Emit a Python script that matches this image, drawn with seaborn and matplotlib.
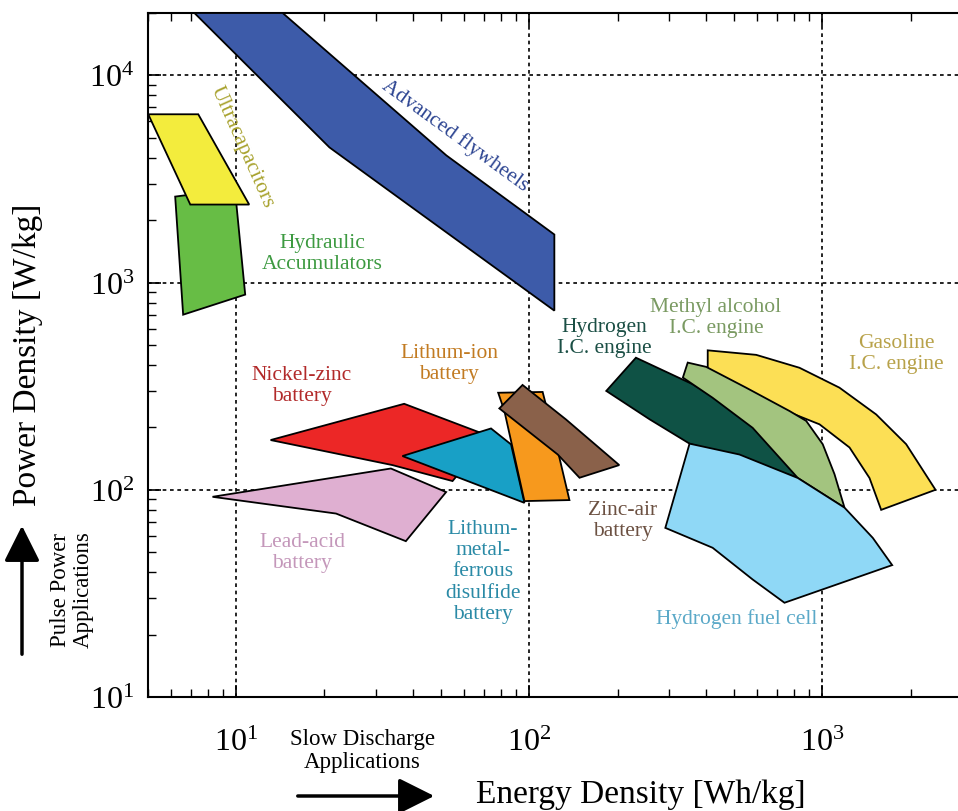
import numpy as np
import pandas as pd
import matplotlib
matplotlib.use("Agg")
import matplotlib.pyplot as plt
import seaborn as sns
from matplotlib.ticker import LogLocator, NullFormatter

# Ragone chart: each technology is a region in (energy density, power density)
# Vertices in Wh/kg (energy) and W/kg (power)

flywheel_e = [7.2, 14.4, 21.9, 52.1, 121.7, 121.7, 41.1, 20.8]
flywheel_p = [20000, 20000, 11940, 4110, 1706, 732, 2230, 4490]

hydraulic_e = [6.19, 7.3, 10.0, 10.73, 6.59]
hydraulic_p = [2600, 2680, 2430, 875, 700]

ultracap_e = [5.01, 7.42, 11.07, 6.97]
ultracap_p = [6490, 6490, 2380, 2380]

nickel_zinc_e = [13.1, 37.4, 73.0, 54.7, 34.1]
nickel_zinc_p = [173.8, 260, 181.6, 110.2, 131.6]

lead_acid_e = [8.30, 33.7, 52.0, 37.9, 21.9]
lead_acid_p = [92.5, 126.7, 97.5, 56.5, 76.8]

li_metal_e = [36.9, 74.0, 86.6, 96.2]
li_metal_p = [145.5, 197.7, 165.6, 86.5]

li_ion_e = [78.3, 111, 125.9, 137, 96.2, 82.2]
li_ion_p = [294, 296.6, 148, 89.2, 88.2, 240]

zinc_air_e = [79.0, 94.8, 133.3, 202.6, 148.3, 125]
zinc_air_p = [247, 320.6, 218.6, 131.6, 114.3, 148]

h2_ice_e = [183, 231, 361, 578, 835, 352, 257]
h2_ice_p = [300, 434, 323, 215, 114, 167, 219]

methyl_e = [334, 347, 401, 549, 772, 880, 1002, 1099, 1189, 824, 578, 422]
methyl_p = [348, 411, 392, 311, 240, 215, 166, 119, 82, 114, 199, 278]

gasoline_e = [406, 594, 835, 1143, 1525, 1930, 2430, 1586, 1447, 1237, 977, 752, 406]
gasoline_p = [471, 448, 388, 311, 231, 166, 100, 80, 114, 160, 207, 240, 361]

fuel_cell_e = [352, 521, 824, 1189, 1485, 1729, 742, 578, 422, 291]
fuel_cell_p = [167, 148, 114, 82, 58.6, 43.3, 28.5, 36.9, 52.5, 65.5]

regions = [
    ("Advanced flywheels", flywheel_e, flywheel_p, "#3d5ba9"),
    ("Hydraulic Accumulators", hydraulic_e, hydraulic_p, "#67bd45"),
    ("Ultracapacitors", ultracap_e, ultracap_p, "#f3ec3d"),
    ("Nickel-zinc battery", nickel_zinc_e, nickel_zinc_p, "#ec2726"),
    ("Lead-acid battery", lead_acid_e, lead_acid_p, "#dfafd1"),
    ("Lithum-metal-ferrous disulfide battery", li_metal_e, li_metal_p, "#18a0c6"),
    ("Lithum-ion battery", li_ion_e, li_ion_p, "#f7991d"),
    ("Zinc-air battery", zinc_air_e, zinc_air_p, "#8a614a"),
    ("Hydrogen I.C. engine", h2_ice_e, h2_ice_p, "#0f5245"),
    ("Gasoline I.C. engine", gasoline_e, gasoline_p, "#fcdf55"),
    ("Methyl alcohol I.C. engine", methyl_e, methyl_p, "#a3c47f"),
    ("Hydrogen fuel cell", fuel_cell_e, fuel_cell_p, "#8fd8f6"),
]

sns.set_theme(style="ticks")
plt.rcParams["font.family"] = ["Liberation Serif", "DejaVu Serif"]
plt.rcParams["mathtext.fontset"] = "stix"

fig = plt.figure(figsize=(9.58, 8.12), dpi=100)
ax = fig.add_axes([148 / 958, 1 - 698 / 812, 1 - 148 / 958, (698 - 14) / 812])

for name, e, p, color in regions:
    df = pd.DataFrame({"energy": e, "power": p})
    ax.fill(df["energy"], df["power"], facecolor=color, edgecolor="black",
            linewidth=1.3, joinstyle="miter", zorder=3)

ax.set_xscale("log")
ax.set_yscale("log")
ax.set_xlim(5, 2900)
ax.set_ylim(10, 20000)

# dotted grid at the decades
ax.grid(True, which="major", color="black", linestyle=(0, (2.2, 2.2)), linewidth=1.2)
ax.set_axisbelow(True)

for side in ["left", "bottom", "top"]:
    ax.spines[side].set_color("black")
    ax.spines[side].set_linewidth(1.5)
ax.spines["right"].set_visible(False)

ax.xaxis.set_major_locator(LogLocator(base=10, numticks=10))
ax.yaxis.set_major_locator(LogLocator(base=10, numticks=10))
ax.xaxis.set_minor_locator(LogLocator(base=10, subs=np.arange(2, 10), numticks=20))
ax.yaxis.set_minor_locator(LogLocator(base=10, subs=np.arange(2, 10), numticks=20))
ax.xaxis.set_minor_formatter(NullFormatter())
ax.yaxis.set_minor_formatter(NullFormatter())
ax.tick_params(which="both", direction="in", top=True, right=False, color="black")
ax.tick_params(which="major", length=9, width=1.2, labelsize=23, colors="black", pad=22)
ax.tick_params(which="minor", length=6, width=1.0)
ax.tick_params(axis="y", which="major", pad=10)

# axis titles placed in figure space
fig.text(641 / 958, 1 - 795 / 812, "Energy Density [Wh/kg]", fontsize=24,
         ha="center", va="center", color="black")
fig.text(28 / 958, 1 - 355 / 812, "Power Density [W/kg]", fontsize=24,
         ha="center", va="center", rotation=90, color="black")

labels = [
    ("Advanced flywheels", 455, 136, -36, "#2d4592"),
    ("Ultracapacitors", 242, 147, -66, "#a8a22e"),
    ("Hydraulic\nAccumulators", 322, 254, 0, "#3d9a41"),
    ("Nickel-zinc\nbattery", 302, 386, 0, "#b22a2a"),
    ("Lithum-ion\nbattery", 449, 364, 0, "#c27b22"),
    ("Hydrogen\nI.C. engine", 604, 338, 0, "#1b4f45"),
    ("Methyl alcohol\nI.C. engine", 716, 318, 0, "#7a9a62"),
    ("Gasoline\nI.C. engine", 896, 354, 0, "#b8a24a"),
    ("Zinc-air\nbattery", 623, 521, 0, "#6c5142"),
    ("Lead-acid\nbattery", 302, 553, 0, "#c497ba"),
    ("Lithum-\nmetal-\nferrous\ndisulfide\nbattery", 483, 572, 0, "#2a8aa6"),
    ("Hydrogen fuel cell", 737, 619, 0, "#5ba9c8"),
]
for text, px, py, rot, col in labels:
    fig.text(px / 958, 1 - py / 812, text, color=col, fontsize=15.5,
             rotation=rot, ha="center", va="center", linespacing=1.15,
             rotation_mode="anchor")

# direction hints
fig.text(362 / 958, 1 - 751 / 812, "Slow Discharge\nApplications", fontsize=16.5,
         ha="center", va="center", linespacing=1.1, color="black")
fig.text(72 / 958, 1 - 590 / 812, "Pulse Power\nApplications", fontsize=16.5,
         ha="center", va="center", rotation=90, linespacing=1.1, color="black")
fig.add_artist(matplotlib.patches.FancyArrowPatch(
    (295 / 958, 1 - 797 / 812), (437 / 958, 1 - 797 / 812),
    transform=fig.transFigure, arrowstyle="-|>,head_length=10,head_width=5",
    mutation_scale=2.2, color="black", linewidth=2.5))
fig.add_artist(matplotlib.patches.FancyArrowPatch(
    (22 / 958, 1 - 658 / 812), (22 / 958, 1 - 524 / 812),
    transform=fig.transFigure, arrowstyle="-|>,head_length=10,head_width=5",
    mutation_scale=2.2, color="black", linewidth=2.5))

fig.savefig("out.png", dpi=100, facecolor="white")
